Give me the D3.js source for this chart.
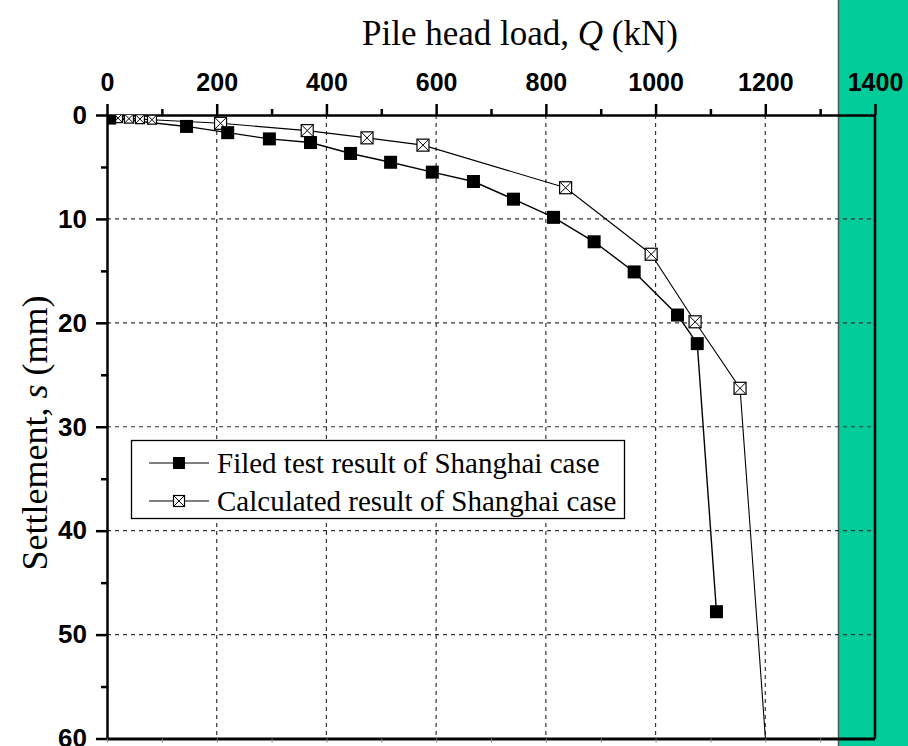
<!DOCTYPE html>
<html>
<head>
<meta charset="utf-8">
<script src="https://cdn.jsdelivr.net/npm/d3@7"></script>
<style>
body { margin: 0; background: #fff; }
svg { display: block; }
</style>
</head>
<body>
<svg></svg>
<script>
// Chart data: load Q (kN) and settlement s (mm)
const testQ = [5, 145, 220, 296, 371, 444, 517, 593, 668, 741, 814, 888, 961, 1040, 1076, 1111];
const testS = [0.3, 1.1, 1.7, 2.3, 2.65, 3.7, 4.55, 5.5, 6.4, 8.1, 9.85, 12.2, 15.1, 19.25, 22.0, 47.8];
const calcQ = [20, 40, 60, 82, 207, 365, 474, 576, 836, 992, 1072, 1154, 1214];
const calcS = [0.3, 0.35, 0.4, 0.45, 0.8, 1.5, 2.2, 2.9, 7.0, 13.4, 19.9, 26.3, 70];
const xMajor = [0, 200, 400, 600, 800, 1000, 1200, 1400];
const xMinor = [100, 300, 500, 700, 900, 1100, 1300];
const yMajor = [0, 10, 20, 30, 40, 50, 60];
const yMinor = [5, 15, 25, 35, 45, 55];
const legendLabels = ["Filed test result of Shanghai case", "Calculated result of Shanghai case"];

const width = 908, height = 746;
const svg = d3.select("svg").attr("width", width).attr("height", height);

// green strip on the right, behind the chart
svg.append("rect")
.attr("x", 838).attr("y", 0).attr("width", 70).attr("height", height)
.attr("fill", "#00cc99");
svg.append("line")
.attr("x1", 838.5).attr("x2", 838.5).attr("y1", 0).attr("y2", height)
.attr("stroke", "#555").attr("stroke-width", 1.5);

const x = d3.scaleLinear().domain([0, 1400]).range([107, 875]);
const y = d3.scaleLinear().domain([0, 60]).range([115, 738.5]);

// grid lines
const grid = svg.append("g")
.attr("stroke", "#333").attr("stroke-width", 1.2).attr("stroke-dasharray", "4,4");
grid.selectAll(".gx").data(xMajor.slice(1, -1)).enter().append("line")
.attr("x1", d => x(d)).attr("x2", d => x(d))
.attr("y1", y(0)).attr("y2", y(60));
grid.selectAll(".gy").data(yMajor.slice(1, -1)).enter().append("line")
.attr("x1", x(0)).attr("x2", x(1400))
.attr("y1", d => y(d)).attr("y2", d => y(d));

// axes
const tickFont = "bold 25px 'Liberation Sans', Arial, sans-serif";
const leftFont = "bold 26px 'Liberation Sans', Arial, sans-serif";

svg.append("g").attr("transform", `translate(0,${y(0)})`)
.call(d3.axisTop(x).tickValues(xMinor).tickSize(6).tickFormat(""))
.call(g => g.select(".domain").remove())
.call(g => g.selectAll("line").attr("stroke-width", 2.5));
svg.append("g").attr("transform", `translate(0,${y(0)})`)
.call(d3.axisTop(x).tickValues(xMajor).tickSize(11).tickSizeOuter(0).tickPadding(13).tickFormat(d3.format("d")))
.call(g => g.select(".domain").attr("stroke-width", 2.5))
.call(g => g.selectAll("line").attr("stroke-width", 2.5))
.call(g => g.selectAll("text").style("font", tickFont).attr("fill", "#000"));

svg.append("g").attr("transform", `translate(${x(0)},0)`)
.call(d3.axisLeft(y).tickValues(yMinor).tickSize(6).tickFormat(""))
.call(g => g.select(".domain").remove())
.call(g => g.selectAll("line").attr("stroke-width", 2.5));
svg.append("g").attr("transform", `translate(${x(0)},0)`)
.call(d3.axisLeft(y).tickValues(yMajor).tickSize(11).tickSizeOuter(0).tickPadding(9).tickFormat(d3.format("d")))
.call(g => g.select(".domain").attr("stroke-width", 2.5))
.call(g => g.selectAll("line").attr("stroke-width", 2.5))
.call(g => g.selectAll("text").style("font", leftFont).attr("fill", "#000"));

// bottom and right frame
svg.append("g").attr("transform", `translate(0,${y(60)})`)
.call(d3.axisBottom(x).tickValues(xMajor.concat(xMinor)).tickSize(4).tickSizeOuter(0).tickFormat(""))
.call(g => g.select(".domain").attr("stroke-width", 3))
.call(g => g.selectAll("line").attr("stroke", "#888").attr("stroke-width", 1));
svg.append("line")
.attr("x1", x(1400)).attr("x2", x(1400)).attr("y1", y(0)).attr("y2", y(60))
.attr("stroke", "#000").attr("stroke-width", 2.5);

// series
svg.append("clipPath").attr("id", "plot")
.append("rect").attr("x", x(0)).attr("y", y(0))
.attr("width", x(1400) - x(0)).attr("height", y(60) - y(0));

const plot = svg.append("g").attr("clip-path", "url(#plot)");
const testData = testQ.map((q, i) => ({ q, s: testS[i] }));
const calcData = calcQ.map((q, i) => ({ q, s: calcS[i] }));
const line = d3.line().x(d => x(d.q)).y(d => y(d.s));

plot.append("path").datum(calcData).attr("d", line)
.attr("fill", "none").attr("stroke", "#000").attr("stroke-width", 1.1);
plot.append("path").datum(testData).attr("d", line)
.attr("fill", "none").attr("stroke", "#000").attr("stroke-width", 1.4);

function crossBox(g, size) {
const h = size / 2;
g.append("rect").attr("x", -h).attr("y", -h).attr("width", size).attr("height", size)
.attr("fill", "#fff").attr("stroke", "#000").attr("stroke-width", 1.2);
g.append("path").attr("d", `M${-h},${-h}L${h},${h}M${h},${-h}L${-h},${h}`)
.attr("stroke", "#000").attr("stroke-width", 1);
}

plot.selectAll(".calc").data(calcData).enter().append("g")
.attr("transform", d => `translate(${x(d.q)},${y(d.s)})`)
.each(function (d, i) { crossBox(d3.select(this), i < 4 ? 9 : 12); });

plot.selectAll(".test").data(testData).enter().append("rect")
.attr("x", d => x(d.q) - 6.5).attr("y", d => y(d.s) - 6.5)
.attr("width", 13).attr("height", 13).attr("fill", "#000");

// axis titles
const serif = "'Liberation Serif', 'Times New Roman', serif";
const xt = svg.append("text").attr("x", 520).attr("y", 45).attr("text-anchor", "middle")
.style("font", `35px ${serif}`).attr("fill", "#000");
xt.append("tspan").text("Pile head load, ");
xt.append("tspan").attr("font-style", "italic").text("Q");
xt.append("tspan").text(" (kN)");

const yt = svg.append("text").attr("transform", "translate(47,433) rotate(-90)")
.attr("text-anchor", "middle").style("font", `36px ${serif}`).attr("fill", "#000");
yt.append("tspan").text("Settlement, ");
yt.append("tspan").attr("font-style", "italic").text("s");
yt.append("tspan").text(" (mm)");

// legend
const legend = svg.append("g");
legend.append("rect").attr("x", 131.5).attr("y", 440.5).attr("width", 493).attr("height", 78)
.attr("fill", "#fff").attr("stroke", "#000").attr("stroke-width", 1.3);
const rows = legend.selectAll(".row").data(legendLabels).enter().append("g")
.attr("transform", (d, i) => `translate(0,${463 + i * 38})`);
rows.append("line").attr("x1", 149).attr("x2", 209).attr("y1", 0).attr("y2", 0)
.attr("stroke", "#000").attr("stroke-width", 1.2);
rows.filter((d, i) => i === 0).append("rect")
.attr("x", 173).attr("y", -6).attr("width", 12).attr("height", 12).attr("fill", "#000");
rows.filter((d, i) => i === 1).append("g").attr("transform", "translate(179,0)")
.each(function () { crossBox(d3.select(this), 11); });
rows.append("text").attr("x", 217).attr("y", 10).text(d => d)
.style("font", `29px ${serif}`).attr("fill", "#000");
</script>
</body>
</html>
